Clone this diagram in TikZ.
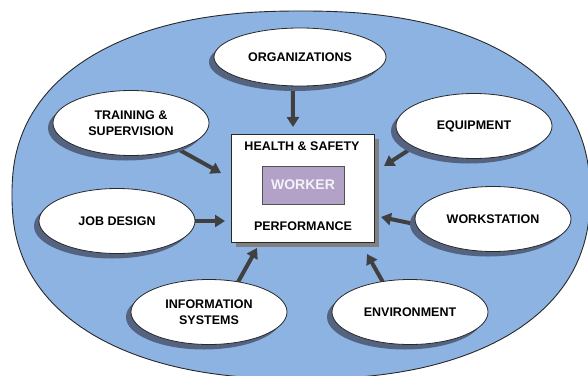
\documentclass[tikz,border=0pt]{standalone}
\usepackage{fontspec}
\setmainfont{Liberation Sans}
\usetikzlibrary{shapes.geometric,shadows,arrows.meta}
\pgfdeclarelayer{bottom}
\pgfdeclarelayer{bg}
\pgfsetlayers{bottom,bg,main}
\definecolor{bigblue}{RGB}{141,179,226}
\definecolor{shblue}{RGB}{84,99,128}
\definecolor{arrowc}{RGB}{64,64,64}
\definecolor{workerc}{RGB}{178,162,199}
\definecolor{edgec}{RGB}{40,40,40}
\definecolor{boxsh}{RGB}{128,128,128}
\definecolor{workertext}{RGB}{244,242,248}
\begin{document}
\begin{tikzpicture}[x=1pt,y=-1pt,
  factor/.style={ellipse, draw=edgec, line width=0.8pt, fill=white,
    inner sep=0pt, outer sep=0pt, minimum width=156pt, minimum height=65pt,
    align=center, font=\fontsize{12.5}{16}\selectfont\bfseries,
    drop shadow={shadow xshift=-5pt, shadow yshift=-5pt, fill=shblue, opacity=1}},
  arr/.style={line width=4pt, draw=arrowc, -{Triangle[length=10pt,width=12pt]}},
  lbl/.style={inner sep=0pt, font=\fontsize{12.5}{16}\selectfont\bfseries}]
\useasboundingbox (0,0) rectangle (588,375);
\begin{pgfonlayer}{bottom}
  \fill[white] (0,0) rectangle (588,375);
  \clip (0,0) rectangle (588,375);
  \draw[fill=bigblue, draw=edgec, line width=0.9pt]
    plot[domain=1:361, samples=181, variable=\t]
      ({301+289*sign(cos(\t))*pow(abs(cos(\t)),0.87)},
       {195+184*sign(sin(\t))*pow(abs(sin(\t)),0.87)}) -- cycle;
\end{pgfonlayer}

% central box
\node[rectangle, draw=edgec, line width=0.8pt, fill=white, inner sep=0pt, outer sep=0pt,
  minimum width=143pt, minimum height=108pt,
  drop shadow={shadow xshift=5pt, shadow yshift=-5pt, fill=boxsh, opacity=1}] (box) at (302.5,188) {};
\node[lbl] (hs) at (302,146) {HEALTH \& SAFETY};
\node[lbl] (perf) at (303,226) {PERFORMANCE};
\node[rectangle, draw=edgec!80, line width=0.8pt, fill=workerc, inner sep=0pt,
  minimum width=82pt, minimum height=38pt, text=workertext,
  font=\fontsize{14}{16}\selectfont\bfseries] (worker) at (303,185) {WORKER};

% factors
\node[factor, minimum width=172pt, minimum height=58pt] (org) at (300,57) {ORGANIZATIONS};
\node[factor] (train) at (131,123) {TRAINING \&\\SUPERVISION};
\node[factor] (equip) at (474,126) {EQUIPMENT};
\node[factor] (job) at (117,221) {JOB DESIGN};
\node[factor] (work) at (493,219) {WORKSTATION};
\node[factor] (info) at (209,312) {INFORMATION\\SYSTEMS};
\node[factor] (env) at (410,312) {ENVIRONMENT};

% arrow tips
\coordinate (tOrg) at (293,127);
\coordinate (tTrain) at (221,173);
\coordinate (tEquip) at (384,166);
\coordinate (tJob) at (225,221);
\coordinate (tWork) at (381,217);
\coordinate (tInfo) at (257,248);
\coordinate (tEnv) at (367,254);

\begin{pgfonlayer}{bg}
  \draw[arr] (org.256) -- (tOrg);
  \draw[arr] (train) -- (tTrain);
  \draw[arr] (equip.199) -- (tEquip);
  \draw[arr] (job.east) -- (tJob);
  \draw[arr] (work.184) -- (tWork);
  \draw[arr] (info.46) -- (tInfo);
  \draw[arr] (env.132) -- (tEnv);
\end{pgfonlayer}
\end{tikzpicture}
\end{document}
